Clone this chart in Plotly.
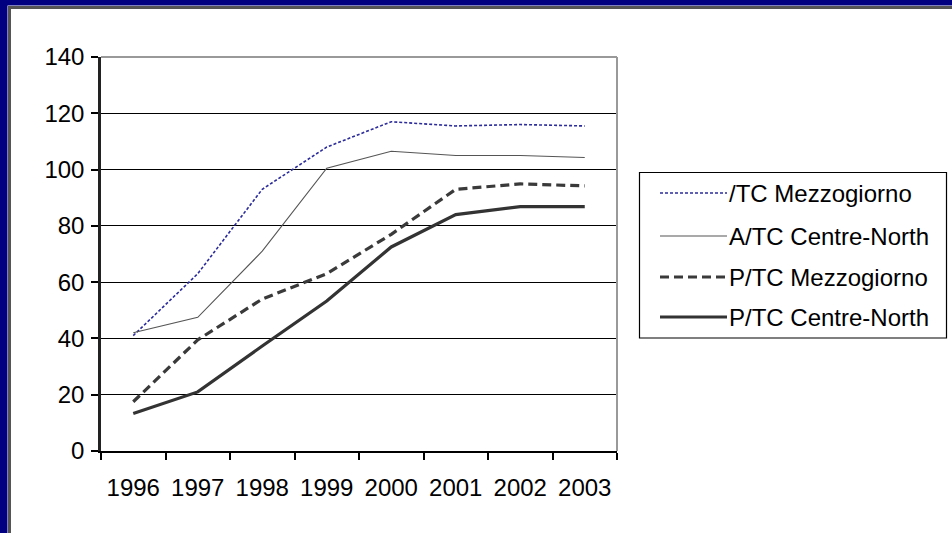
import plotly.graph_objects as go

years = ["1996", "1997", "1998", "1999", "2000", "2001", "2002", "2003"]
atc_mezzogiorno = [41, 63, 93, 108, 117, 115.5, 116, 115.5]
atc_centre_north = [42, 47.5, 71, 100.5, 106.5, 105, 105, 104.3]
ptc_mezzogiorno = [17.5, 39.5, 54, 63, 77, 93, 94.9, 94.2]
ptc_centre_north = [13.3, 21, 37.3, 53.3, 72.5, 84, 86.8, 86.8]
series_names = ["/TC Mezzogiorno", "A/TC Centre-North", "P/TC Mezzogiorno", "P/TC Centre-North"]
y_ticks = [0, 20, 40, 60, 80, 100, 120, 140]

W, H = 952, 533
L, R, T, B = 101, 617, 57, 451
pw, ph = R - L, B - T


def px(x):
    return (x - L) / pw


def py(y):
    return (B - y) / ph


FONT = "Liberation Sans, Arial, sans-serif"

fig = go.Figure()
styles = [
    dict(color="#2b2b9c", width=1.6, dash="3px,2px"),
    dict(color="#555555", width=1.1),
    dict(color="#3a3a3a", width=3.2, dash="9px,5px"),
    dict(color="#333333", width=3.2),
]
for i, (name, vals) in enumerate(zip(series_names,
                                      [atc_mezzogiorno, atc_centre_north, ptc_mezzogiorno, ptc_centre_north])):
    fig.add_trace(go.Scatter(x=years, y=vals, name=name, mode="lines",
                             line=styles[i], showlegend=False))

shapes = [
    # navy frame
    dict(type="rect", xref="paper", yref="paper", x0=px(-2), x1=px(7.5), y0=py(H + 5), y1=py(-2),
         fillcolor="#000080", line=dict(width=0), layer="above"),
    dict(type="rect", xref="paper", yref="paper", x0=px(-2), x1=px(W + 5), y0=py(5.5), y1=py(-2),
         fillcolor="#000080", line=dict(width=0), layer="above"),
    dict(type="line", xref="paper", yref="paper", x0=px(9.5), x1=px(9.5), y0=py(H + 5), y1=py(6),
         line=dict(color="#555555", width=3), layer="above"),
    dict(type="line", xref="paper", yref="paper", x0=px(8), x1=px(W + 5), y0=py(7.5), y1=py(7.5),
         line=dict(color="#555555", width=3), layer="above"),
    # plot-area border top and right
    dict(type="line", xref="paper", yref="paper", x0=0, x1=1, y0=1, y1=1,
         line=dict(color="#999999", width=2), layer="above"),
    dict(type="line", xref="paper", yref="paper", x0=1, x1=1, y0=0, y1=1,
         line=dict(color="#999999", width=2), layer="above"),
    # legend box
    dict(type="rect", xref="paper", yref="paper", x0=px(639.5), x1=px(946.5), y0=py(338), y1=py(172.5),
         fillcolor="white", line=dict(color="black", width=1.2), layer="above"),
]

annotations = []
rows = [193, 236, 277, 317]
for name, st, ry in zip(series_names, styles, rows):
    shapes.append(dict(type="line", xref="paper", yref="paper", x0=px(660), x1=px(727),
                       y0=py(ry), y1=py(ry), line=st, layer="above"))
    annotations.append(dict(xref="paper", yref="paper", x=px(727), y=py(ry), xanchor="left",
                            yanchor="middle", text=name, showarrow=False,
                            font=dict(family=FONT, size=24, color="black")))

fig.update_layout(
    width=W, height=H,
    margin=dict(l=L, r=W - R, t=T, b=H - B, pad=0),
    paper_bgcolor="white", plot_bgcolor="white",
    font=dict(family=FONT, size=24, color="black"),
    showlegend=False,
    shapes=shapes,
    annotations=annotations,
    xaxis=dict(type="category", categoryorder="array", categoryarray=years,
               range=[-0.5, 7.5], tickson="boundaries", ticks="outside", ticklen=7,
               tickcolor="black", tickwidth=1.5, showline=True, linecolor="black", linewidth=1.5,
               showgrid=False, ticklabelstandoff=14, tickfont=dict(size=24)),
    yaxis=dict(range=[0, 140], tickvals=y_ticks, ticks="outside", ticklen=7,
               tickcolor="black", tickwidth=1.5, showline=True, linecolor="#222222", linewidth=2.5,
               showgrid=True, gridcolor="black", gridwidth=1, zeroline=False,
               tickfont=dict(size=24), ticklabelstandoff=2),
)

fig.write_html("out.html", config={"displayModeBar": False},
               post_script="document.body.style.margin='0';")
